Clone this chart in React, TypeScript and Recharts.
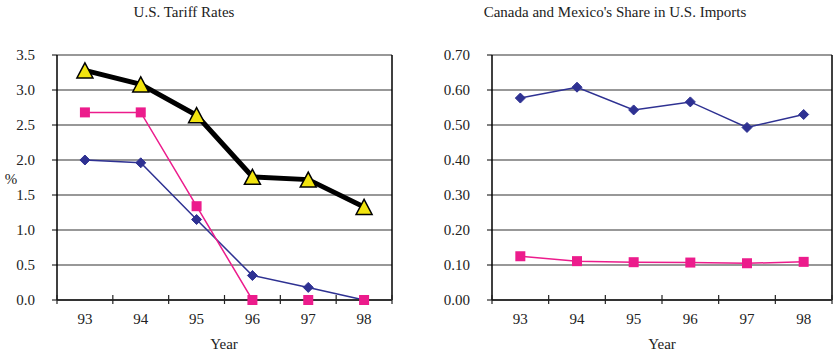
import React from 'react';
import {
  LineChart,
  Line,
  XAxis,
  YAxis,
  CartesianGrid,
  ReferenceLine,
} from 'recharts';

const years = [93, 94, 95, 96, 97, 98];

// U.S. tariff rates (%)
const tariffTotal = [3.28, 3.08, 2.64, 1.76, 1.72, 1.33];
const tariffMexico = [2.68, 2.68, 1.34, 0, 0, 0];
const tariffCanada = [2.0, 1.96, 1.15, 0.35, 0.18, 0.0];

// share in U.S. imports
const shareCanada = [0.577, 0.608, 0.543, 0.566, 0.493, 0.53];
const shareMexico = [0.125, 0.111, 0.108, 0.107, 0.105, 0.109];

const tariffTicks = [0, 0.5, 1.0, 1.5, 2.0, 2.5, 3.0, 3.5];
const shareTicks = [0, 0.1, 0.2, 0.3, 0.4, 0.5, 0.6, 0.7];

const tariffData = years.map((year, i) => ({
  year,
  total: tariffTotal[i],
  mexico: tariffMexico[i],
  canada: tariffCanada[i],
}));

const shareData = years.map((year, i) => ({
  year,
  canada: shareCanada[i],
  mexico: shareMexico[i],
}));

// year labels at band centres, tick marks at band edges
const xTicks = [...years.map(y => y - 0.5), ...years, years[years.length - 1] + 0.5].sort((a, b) => a - b);
const xDomain = [years[0] - 0.5, years[years.length - 1] + 0.5];

const FONT = '"Liberation Serif", "Times New Roman", serif';
const NAVY = '#2E3192';
const PINK = '#EC1C8C';
const YELLOW = '#F2E40F';

const tickStyle: React.CSSProperties = { fontFamily: FONT, fontSize: 15, fill: '#222' };

const XTick = (props: any) => {
  const { x, y, payload } = props;
  const v = payload.value;
  if (Number.isInteger(v)) {
    return (
      <text x={x} y={y + 24} textAnchor="middle" style={tickStyle}>
        {v}
      </text>
    );
  }
  return <line x1={x} x2={x} y1={y - 5} y2={y + 4} stroke="#222" strokeWidth={1.2} />;
};

const makeYTick = (digits: number) => (props: any) => {
  const { x, y, payload } = props;
  return (
    <text x={x} y={y} dy="0.355em" textAnchor="end" style={tickStyle}>
      {Number(payload.value).toFixed(digits)}
    </text>
  );
};

const TariffTick = makeYTick(1);
const ShareTick = makeYTick(2);

const Diamond = (props: any) => {
  const { cx, cy, index } = props;
  const r = 5;
  return (
    <path
      key={`dm-${index}`}
      d={`M${cx},${cy - r} L${cx + r},${cy} L${cx},${cy + r} L${cx - r},${cy} Z`}
      fill={NAVY}
      stroke={NAVY}
    />
  );
};

const Square = (props: any) => {
  const { cx, cy, index } = props;
  const s = 10;
  return <rect key={`sq-${index}`} x={cx - s / 2} y={cy - s / 2} width={s} height={s} fill={PINK} />;
};

const Triangle = (props: any) => {
  const { cx, cy, index } = props;
  const w = 16;
  const h = 15;
  return (
    <path
      key={`tr-${index}`}
      d={`M${cx},${cy - h / 2} L${cx + w / 2},${cy + h / 2} L${cx - w / 2},${cy + h / 2} Z`}
      fill={YELLOW}
      stroke="#000"
      strokeWidth={1.5}
      strokeLinejoin="miter"
    />
  );
};

const textBase: React.CSSProperties = {
  position: 'absolute',
  fontFamily: FONT,
  fontSize: 15,
  lineHeight: '15px',
  color: '#222',
  whiteSpace: 'nowrap',
};

const App: React.FC = () => {
  return (
    <div
      style={{
        position: 'absolute',
        left: 0,
        top: 0,
        width: 833,
        height: 354,
        background: '#fff',
        overflow: 'hidden',
        fontFamily: FONT,
      }}
    >
      <div style={{ ...textBase, left: 184, top: 5, transform: 'translateX(-50%)' }}>U.S. Tariff Rates</div>
      <div style={{ ...textBase, left: 615, top: 5, transform: 'translateX(-50%)' }}>
        Canada and Mexico's Share in U.S. Imports
      </div>
      <div style={{ ...textBase, left: 11, top: 172, transform: 'translateX(-50%)' }}>%</div>
      <div style={{ ...textBase, left: 224, top: 337, transform: 'translateX(-50%)' }}>Year</div>
      <div style={{ ...textBase, left: 662, top: 337, transform: 'translateX(-50%)' }}>Year</div>

      <div style={{ position: 'absolute', left: 0, top: 0 }}>
        <LineChart width={420} height={354} data={tariffData} margin={{ top: 55, right: 28, bottom: 0, left: 0 }}>
          <CartesianGrid vertical={false} stroke="#333" strokeWidth={1.2} />
          <XAxis
            dataKey="year"
            type="number"
            domain={xDomain}
            ticks={xTicks}
            interval={0}
            height={54}
            tickSize={0}
            tickMargin={0}
            tickLine={false}
            tick={<XTick />}
            axisLine={{ stroke: '#333', strokeWidth: 2 }}
          />
          <YAxis
            domain={[0, 3.5]}
            ticks={tariffTicks}
            interval={0}
            width={57}
            tickSize={5}
            tickMargin={17}
            tick={<TariffTick />}
            axisLine={{ stroke: '#000', strokeWidth: 1.5 }}
            tickLine={{ stroke: '#000' }}
          />
          <ReferenceLine x={xDomain[1]} stroke="#000" strokeWidth={1.5} />
          <Line dataKey="canada" stroke={NAVY} strokeWidth={1.5} dot={Diamond} isAnimationActive={false} />
          <Line dataKey="mexico" stroke={PINK} strokeWidth={1.5} dot={Square} isAnimationActive={false} />
          <Line dataKey="total" stroke="#000" strokeWidth={5} dot={Triangle} isAnimationActive={false} />
        </LineChart>
      </div>

      <div style={{ position: 'absolute', left: 420, top: 0 }}>
        <LineChart width={413} height={354} data={shareData} margin={{ top: 55, right: 1, bottom: 0, left: 0 }}>
          <CartesianGrid vertical={false} stroke="#333" strokeWidth={1.2} />
          <XAxis
            dataKey="year"
            type="number"
            domain={xDomain}
            ticks={xTicks}
            interval={0}
            height={54}
            tickSize={0}
            tickMargin={0}
            tickLine={false}
            tick={<XTick />}
            axisLine={{ stroke: '#333', strokeWidth: 2 }}
          />
          <YAxis
            domain={[0, 0.7]}
            ticks={shareTicks}
            interval={0}
            width={72}
            tickSize={5}
            tickMargin={17}
            tick={<ShareTick />}
            axisLine={{ stroke: '#000', strokeWidth: 1.5 }}
            tickLine={{ stroke: '#000' }}
          />
          <ReferenceLine x={xDomain[1]} stroke="#000" strokeWidth={1.5} />
          <Line dataKey="canada" stroke={NAVY} strokeWidth={1.5} dot={Diamond} isAnimationActive={false} />
          <Line dataKey="mexico" stroke={PINK} strokeWidth={1.5} dot={Square} isAnimationActive={false} />
        </LineChart>
      </div>
    </div>
  );
};

export default App;
